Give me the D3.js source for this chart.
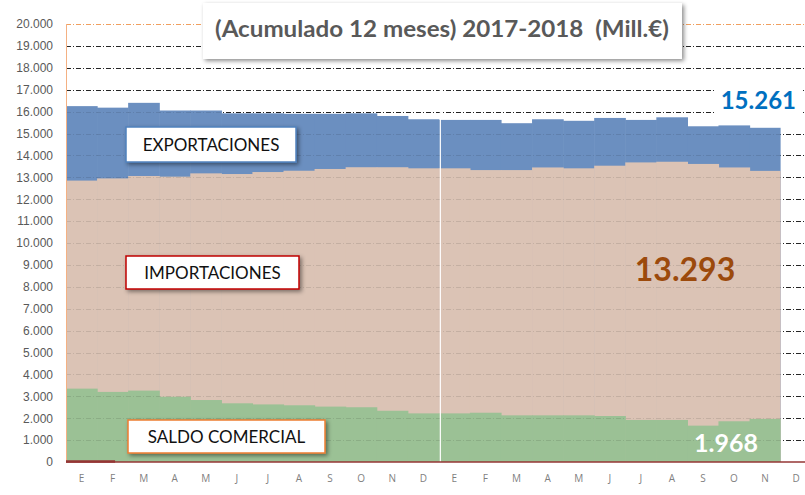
<!DOCTYPE html>
<html>
<head>
<meta charset="utf-8">
<script src="https://cdn.jsdelivr.net/npm/d3@7"></script>
<style>
  body { margin: 0; background: #fff; }
  svg { display: block; }
</style>
</head>
<body>
<svg id="chart" width="805" height="495"></svg>
<script>
// meses (2017 y 2018), datos acumulados 12 meses, Mill.€
const months = ["E","F","M","A","M","J","J","A","S","O","N","D",
                "E","F","M","A","M","J","J","A","S","O","N","D"];
const exportaciones = [16250,16180,16400,16050,16050,15920,15920,15900,15900,15920,15800,15650,
                       15620,15620,15470,15650,15580,15710,15620,15740,15330,15370,15261];
const importaciones = [12850,12950,13060,13030,13180,13150,13240,13300,13380,13460,13460,13410,
                       13410,13330,13330,13450,13410,13530,13680,13710,13610,13450,13293];
const saldo = [3350,3200,3260,2980,2830,2680,2630,2590,2530,2500,2340,2220,
               2220,2250,2130,2130,2130,2100,1920,1920,1660,1860,1968];
const yTicks = d3.range(0, 20001, 1000);

var svg = d3.select("#chart");
var mLeft = 66, mTop = 24, mBottom = 462, step = 31.07;

var x = d3.scaleBand().domain(d3.range(months.length))
    .range([mLeft, mLeft + months.length * step]).padding(0);
var y = d3.scaleLinear().domain([0, 20000]).range([mBottom, mTop]);

var fmt = d => d3.format(",")(d).replace(/,/g, ".");

// sombra de las cajas
var defs = svg.append("defs");
var f = defs.append("filter").attr("id", "shadow")
    .attr("x", "-10%").attr("y", "-30%").attr("width", "130%").attr("height", "180%");
f.append("feDropShadow").attr("dx", 2).attr("dy", 2).attr("stdDeviation", 2)
    .attr("flood-color", "#000").attr("flood-opacity", 0.45);

// rejilla
var grid = svg.append("g");
grid.selectAll("line").data(yTicks.filter(d => d > 0 && d < 20000)).enter().append("line")
    .attr("x1", mLeft).attr("x2", 805)
    .attr("y1", d => Math.round(y(d)) + 0.5).attr("y2", d => Math.round(y(d)) + 0.5)
    .attr("stroke", "#262626").attr("stroke-width", 1)
    .attr("stroke-dasharray", "5,2,1,2");
svg.append("line")
    .attr("x1", mLeft).attr("x2", 805)
    .attr("y1", Math.round(y(20000)) + 0.5).attr("y2", Math.round(y(20000)) + 0.5)
    .attr("stroke", "#f0a060").attr("stroke-width", 1).attr("stroke-dasharray", "5,2,1,2");

// series (superpuestas, no apiladas)
function bars(data, color) {
  svg.append("g").selectAll("rect").data(data).enter().append("rect")
      .attr("x", (d, i) => x(i))
      .attr("width", (d, i) => i < data.length - 1 ? x.bandwidth() + 0.6 : x.bandwidth())
      .attr("y", d => y(d))
      .attr("height", d => mBottom - y(d))
      .attr("fill", color);
}
bars(exportaciones, "#6b8fc0");
bars(importaciones, "#dbc3b5");
bars(saldo, "#9bc195");

// rejilla tenue sobre las series
svg.append("g").selectAll("line").data(yTicks.filter(d => d > 0 && d < 17000)).enter().append("line")
    .attr("x1", mLeft).attr("x2", x(saldo.length - 1) + x.bandwidth())
    .attr("y1", d => Math.round(y(d)) + 0.5).attr("y2", d => Math.round(y(d)) + 0.5)
    .attr("stroke", "#000").attr("stroke-opacity", 0.1)
    .attr("stroke-dasharray", "5,2,1,2");

// separador de años
svg.append("line")
    .attr("x1", x(12) + 1.5).attr("x2", x(12) + 1.5)
    .attr("y1", mTop).attr("y2", mBottom)
    .attr("stroke", "#fff").attr("stroke-width", 1.2);

// ejes
svg.append("line").attr("x1", mLeft + 0.5).attr("x2", mLeft + 0.5)
    .attr("y1", mTop).attr("y2", mBottom)
    .attr("stroke", "#f4b183").attr("stroke-width", 1);
svg.append("line").attr("x1", mLeft).attr("x2", 805)
    .attr("y1", mBottom).attr("y2", mBottom)
    .attr("stroke", "#943634").attr("stroke-width", 1.6);
svg.append("line").attr("x1", mLeft).attr("x2", x(1) + 18)
    .attr("y1", mBottom - 0.5).attr("y2", mBottom - 0.5)
    .attr("stroke", "#943634").attr("stroke-width", 2.6);

var yAxis = svg.append("g")
    .attr("transform", "translate(" + mLeft + ",0)")
    .call(d3.axisLeft(y).tickValues(yTicks).tickFormat(fmt).tickSize(0).tickPadding(13));
yAxis.select(".domain").remove();
yAxis.selectAll("text")
    .attr("fill", "#595959")
    .style("font-family", "Liberation Sans, Arial, sans-serif")
    .style("font-size", "12px");

var xAxis = svg.append("g")
    .attr("transform", "translate(0," + mBottom + ")")
    .call(d3.axisBottom(x).tickFormat(i => months[i]).tickSize(0).tickPadding(13));
xAxis.select(".domain").remove();
xAxis.selectAll("text")
    .attr("fill", "#7f7f7f")
    .style("font-family", "Open Sans, sans-serif")
    .style("font-size", "10px");

// título
svg.append("rect")
    .attr("x", 203).attr("y", 3).attr("width", 479).attr("height", 56)
    .attr("fill", "#fff").attr("filter", "url(#shadow)");
svg.append("text")
    .attr("x", 442).attr("y", 37)
    .attr("text-anchor", "middle")
    .attr("fill", "#595959")
    .attr("textLength", 454).attr("lengthAdjust", "spacingAndGlyphs")
    .style("font-family", "Lato, sans-serif")
    .style("font-weight", "bold")
    .style("font-size", "23px")
    .style("white-space", "pre")
    .text("(Acumulado 12 meses) 2017-2018  (Mill.€)");

// cajas de series
function box(x0, y0, w, h, stroke, label) {
  svg.append("rect")
      .attr("x", x0).attr("y", y0).attr("width", w).attr("height", h)
      .attr("fill", "#fff").attr("stroke", stroke).attr("stroke-width", 1.5)
      .attr("filter", "url(#shadow)");
  svg.append("text")
      .attr("x", x0 + w / 2).attr("y", y0 + h / 2 + 6)
      .attr("text-anchor", "middle")
      .attr("fill", "#111")
      .style("font-family", "Lato, sans-serif")
      .style("font-size", "17px")
      .text(label);
}
box(126, 127, 170, 35, "#4f81bd", "EXPORTACIONES");
box(126, 256, 173, 33, "#c00000", "IMPORTACIONES");
box(128, 420, 197, 33, "#ed7d31", "SALDO COMERCIAL");

// últimos valores
var last = saldo.length - 1;
svg.append("rect")
    .attr("x", 716).attr("y", 86).attr("width", 86).attr("height", 28)
    .attr("fill", "#fff");
svg.append("text")
    .attr("x", 796).attr("y", 109).attr("text-anchor", "end")
    .attr("fill", "#0070c0")
    .style("font-family", "Lato, sans-serif").style("font-weight", "bold").style("font-size", "24px")
    .text(fmt(exportaciones[last]));
svg.append("text")
    .attr("x", 685).attr("y", 281).attr("text-anchor", "middle")
    .attr("fill", "#9c4a0c")
    .style("font-family", "Lato, sans-serif").style("font-weight", "bold").style("font-size", "32px")
    .text(fmt(importaciones[last]));
svg.append("text")
    .attr("x", 726).attr("y", 452).attr("text-anchor", "middle")
    .attr("fill", "#fff")
    .style("font-family", "Lato, sans-serif").style("font-weight", "bold").style("font-size", "25px")
    .text(fmt(saldo[last]));
</script>
</body>
</html>
